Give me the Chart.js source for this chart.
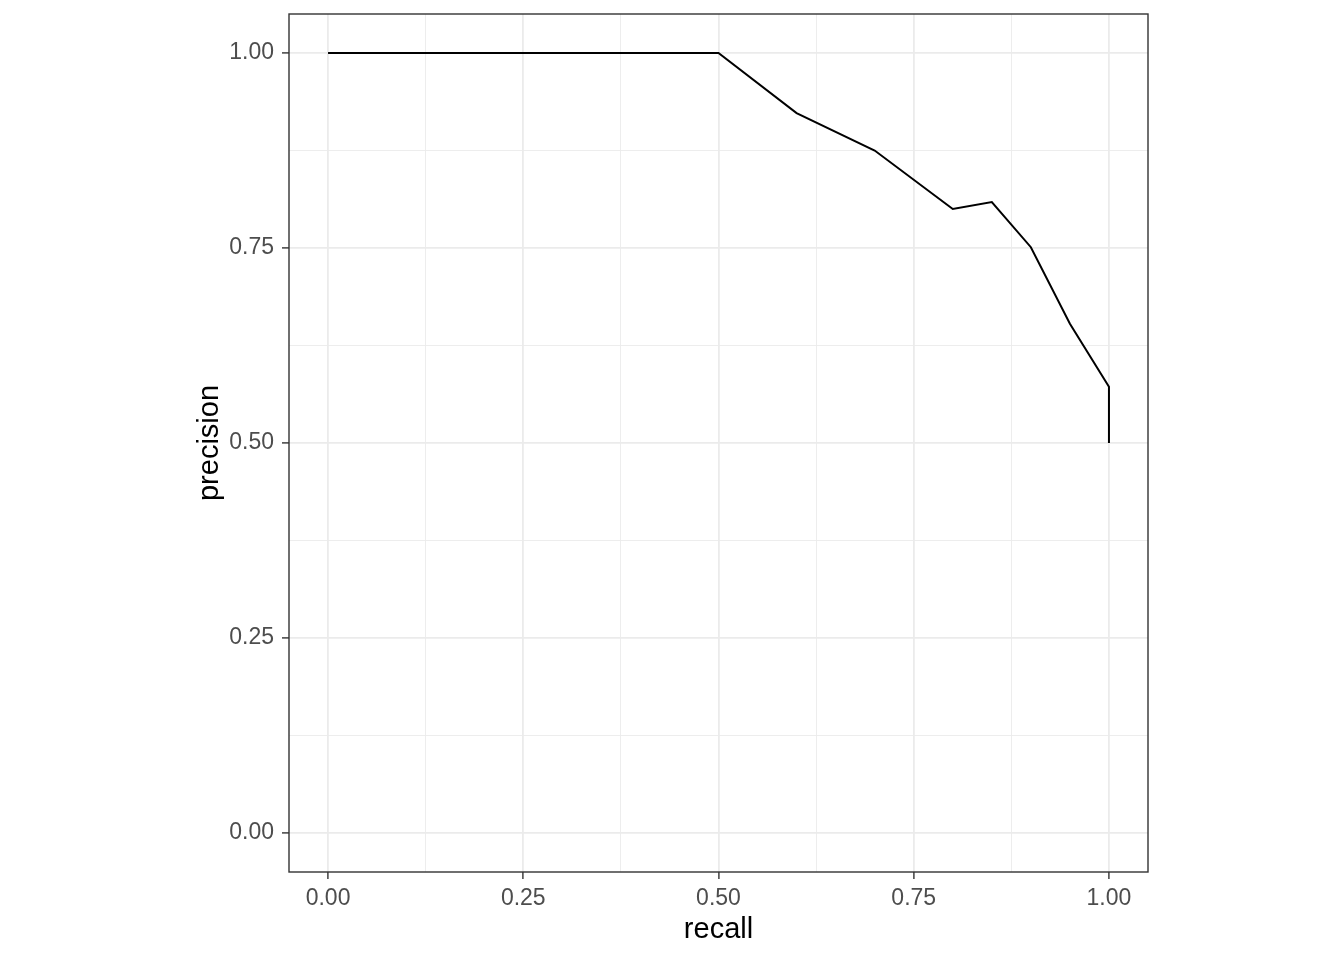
<!DOCTYPE html>
<html>
<head>
<meta charset="utf-8">
<title>Precision-recall curve</title>
<script src="https://cdn.jsdelivr.net/npm/chart.js@4.4.1/dist/chart.umd.min.js"></script>
<style>
  html, body { margin: 0; padding: 0; background: #ffffff; }
  #wrap { width: 1344px; height: 960px; }
</style>
</head>
<body>
<div id="wrap">
  <canvas id="prChart" width="1344" height="960"></canvas>
</div>
<script>
// Data
const recall = [0, 0.5, 0.6, 0.7, 0.8, 0.85, 0.9, 0.95, 1.0, 1.0];
const precision = [1.0, 1.0, 0.923, 0.875, 0.8, 0.809, 0.751, 0.653, 0.572, 0.5];

// Axis breaks (same on both axes)
const majorBreaks = [0, 0.25, 0.5, 0.75, 1.0];
const minorBreaks = [0.125, 0.375, 0.625, 0.875];
const breakLabels = ["0.00", "0.25", "0.50", "0.75", "1.00"];

const points = recall.map(function (r, i) {
  return { x: r, y: precision[i] };
});

function isMajor(value) {
  return majorBreaks.some(function (b) {
    return Math.abs(b - value) < 1e-9;
  });
}

function labelFor(value) {
  const idx = majorBreaks.findIndex(function (b) {
    return Math.abs(b - value) < 1e-9;
  });
  return idx >= 0 ? breakLabels[idx] : "";
}

function setBreaks(scale) {
  scale.ticks = majorBreaks
    .concat(minorBreaks)
    .sort(function (a, b) { return a - b; })
    .map(function (v) { return { value: v }; });
}

// ggplot-like grid: light major + thinner minor lines
const gridOptions = {
  color: "#EBEBEB",
  lineWidth: function (ctx) {
    return ctx.tick && isMajor(ctx.tick.value) ? 1.8 : 0.9;
  },
  tickLength: 7,
  tickWidth: 1.4,
  tickColor: function (ctx) {
    return ctx.tick && isMajor(ctx.tick.value) ? "#333333" : "rgba(0,0,0,0)";
  },
};

// Panel border drawn around the whole plot area
const panelBorder = {
  id: "panelBorder",
  afterDraw: function (chart) {
    const a = chart.chartArea;
    const ctx = chart.ctx;
    ctx.save();
    ctx.strokeStyle = "#333333";
    ctx.lineWidth = 1.4;
    ctx.strokeRect(a.left, a.top, a.right - a.left, a.bottom - a.top);
    ctx.restore();
  },
};

Chart.defaults.font.family = "'Liberation Sans', Arial, sans-serif";

new Chart(document.getElementById("prChart"), {
  type: "scatter",
  data: {
    datasets: [
      {
        label: "precision",
        data: points,
        showLine: true,
        borderColor: "#000000",
        borderWidth: 2,
        pointRadius: 0,
        tension: 0,
        fill: false,
      },
    ],
  },
  options: {
    responsive: false,
    animation: false,
    devicePixelRatio: 1,
    layout: {
      padding: { left: 186, right: 196, top: 14, bottom: 0 },
    },
    plugins: {
      legend: { display: false },
      tooltip: { enabled: false },
    },
    scales: {
      x: {
        type: "linear",
        min: -0.05,
        max: 1.05,
        afterBuildTicks: setBreaks,
        afterFit: function (scale) {
          scale.height = 88;
          scale.paddingLeft = 0;
          scale.paddingRight = 0;
        },
        border: { display: false },
        grid: gridOptions,
        ticks: {
          autoSkip: false,
          maxRotation: 0,
          padding: 6,
          color: "#4D4D4D",
          font: { size: 23 },
          callback: labelFor,
        },
        title: {
          display: true,
          text: "recall",
          color: "#000000",
          font: { size: 29 },
          padding: { top: 0, bottom: 13 },
        },
      },
      y: {
        type: "linear",
        min: -0.05,
        max: 1.05,
        afterBuildTicks: setBreaks,
        afterFit: function (scale) {
          scale.width = 103;
          scale.paddingTop = 0;
          scale.paddingBottom = 0;
        },
        border: { display: false },
        grid: gridOptions,
        ticks: {
          autoSkip: false,
          padding: 8,
          color: "#4D4D4D",
          font: { size: 23 },
          callback: labelFor,
        },
        title: {
          display: true,
          text: "precision",
          color: "#000000",
          font: { size: 29 },
          padding: { top: 7, bottom: 0 },
        },
      },
    },
  },
  plugins: [panelBorder],
});
</script>
</body>
</html>
